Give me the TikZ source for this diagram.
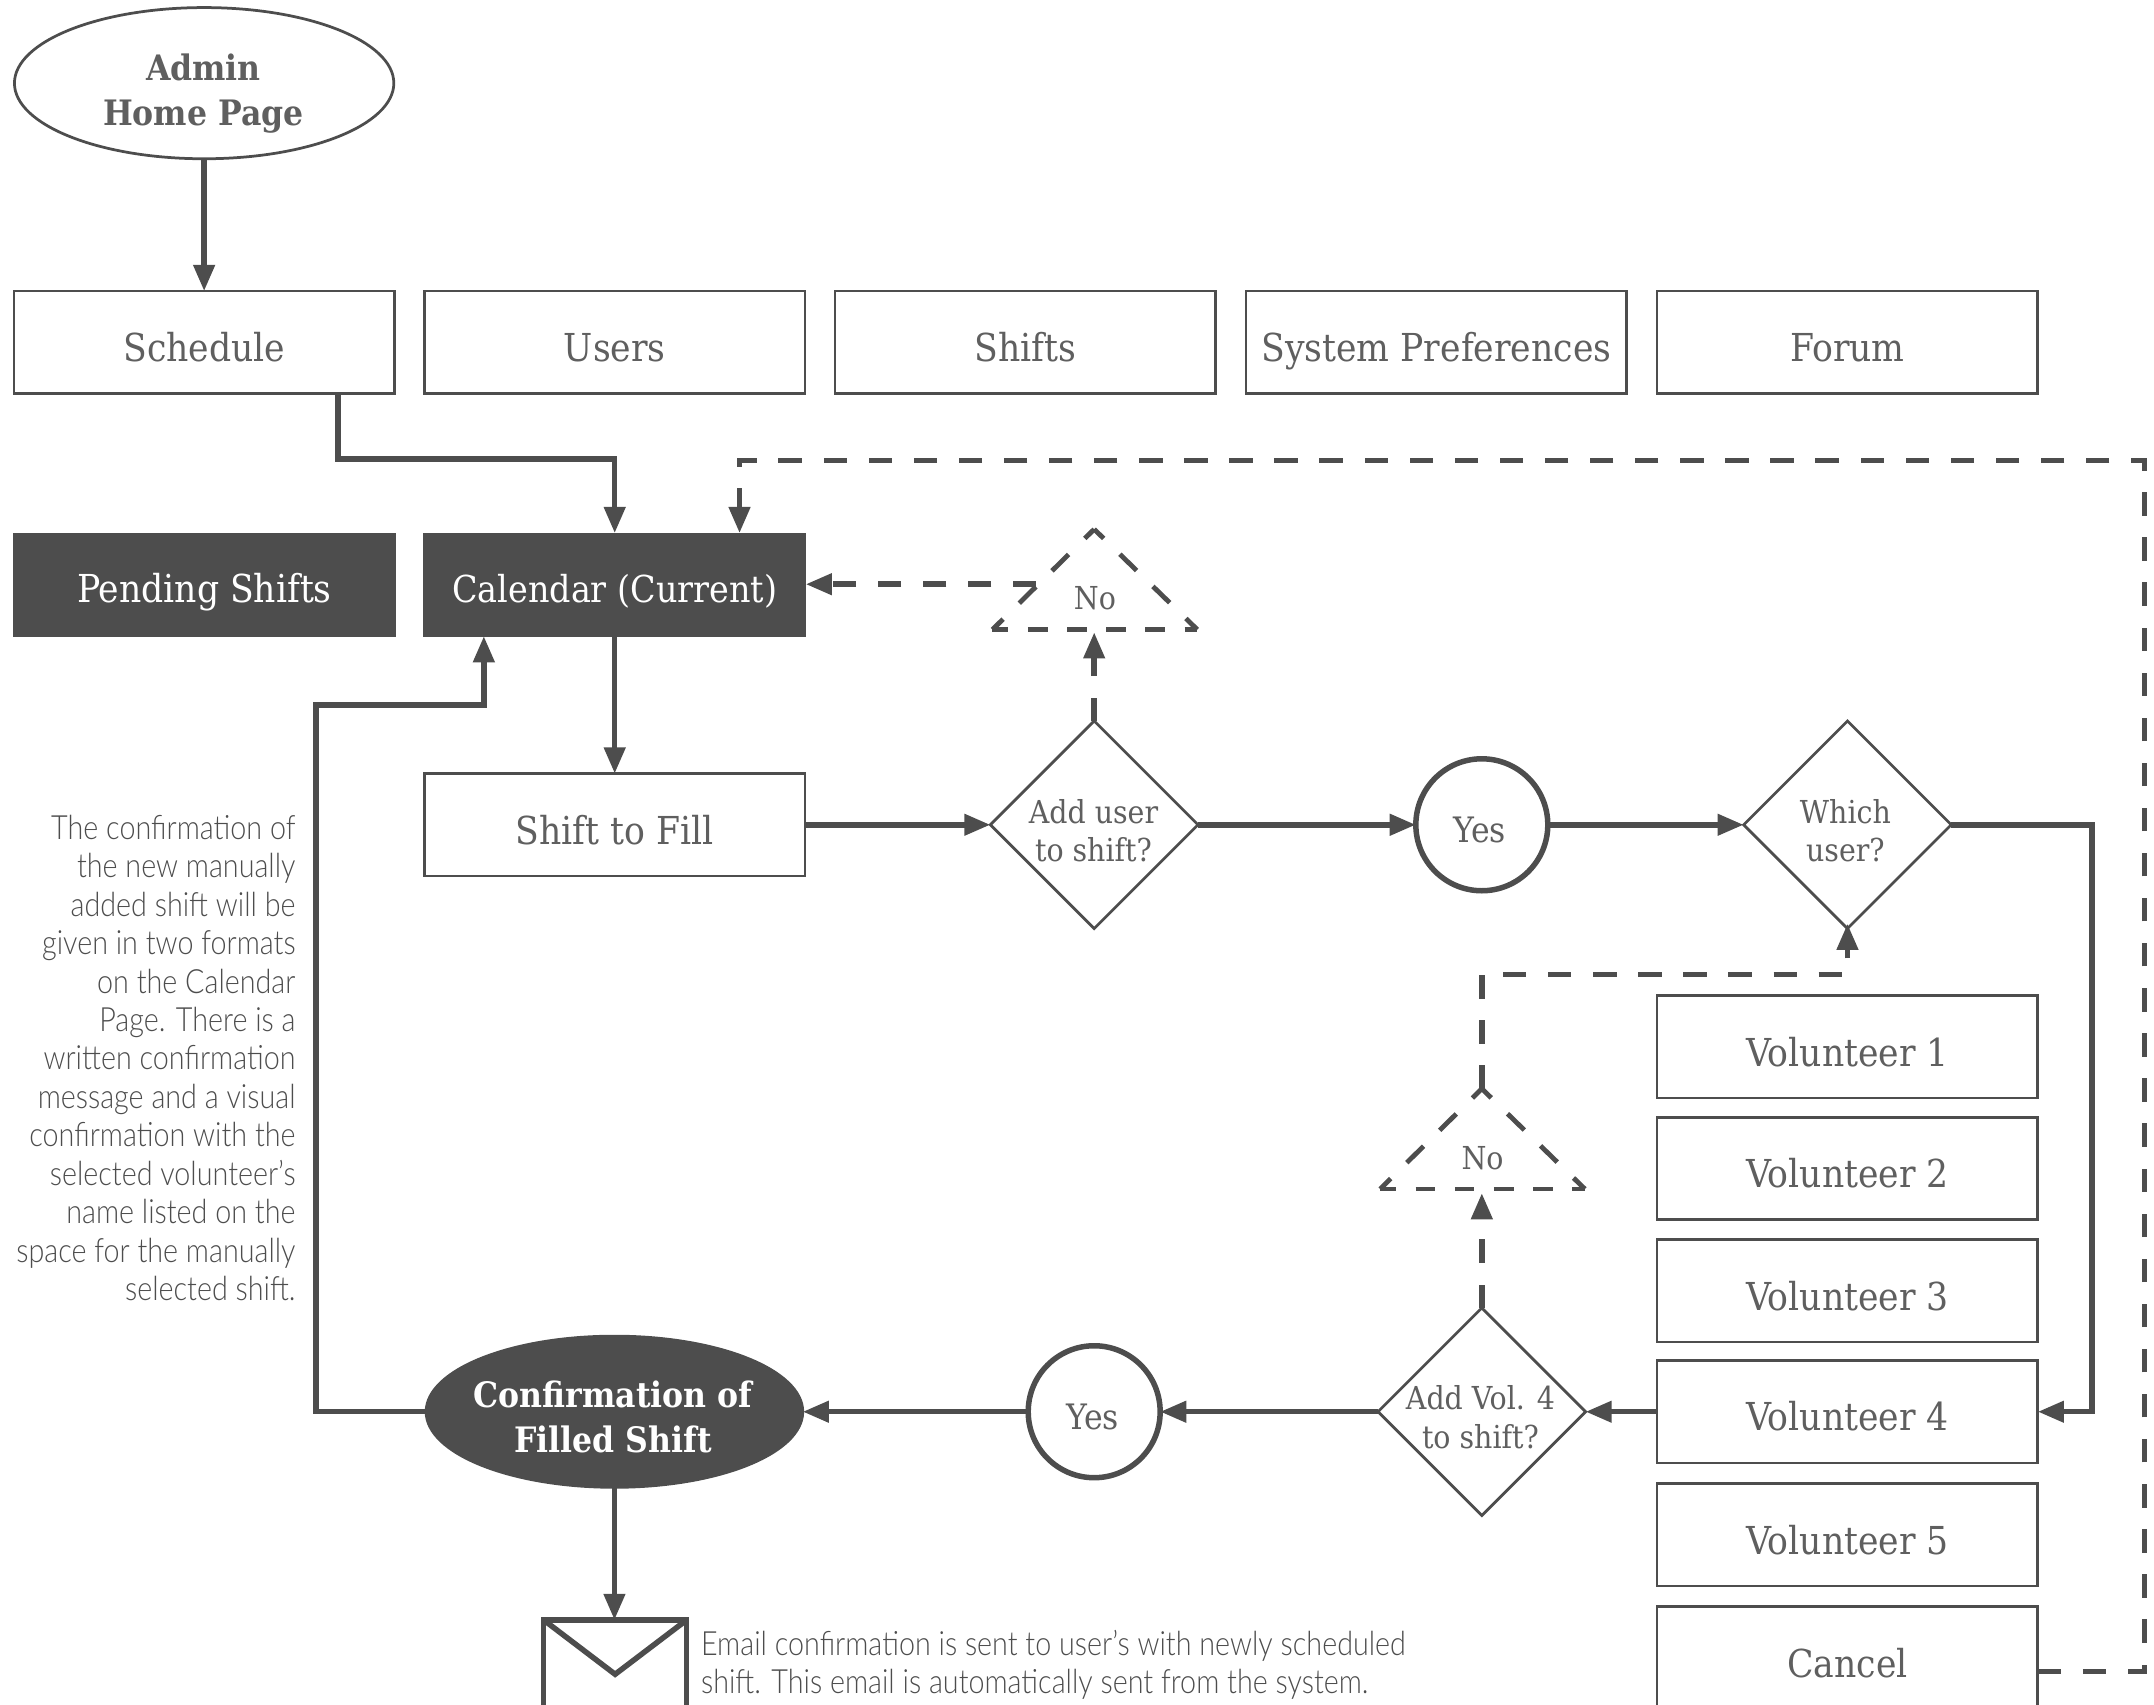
\documentclass[tikz,border=0pt]{standalone}
\usepackage{fontspec}
\usetikzlibrary{arrows.meta,shapes.geometric}
\setmainfont{DejaVu Serif Condensed}
\newfontfamily\notefont[FakeStretch=0.86]{Lato Light}
\definecolor{ink}{HTML}{4D4D4D}
\definecolor{softink}{HTML}{5F5F5F}
\tikzset{
  every node/.style={inner sep=0pt,outer sep=0pt,text=softink},
  menubox/.style={draw=ink,line width=2pt,rectangle,minimum width=277pt,minimum height=74.5pt,
    font=\fontsize{28}{30}\selectfont,text height=32pt,text depth=4pt},
  darkbox/.style={menubox,fill=ink,text=white,text height=31pt,text depth=5pt,line width=0pt,minimum width=278pt,minimum height=75pt},
  decide/.style={draw=ink,line width=2pt,diamond,minimum width=151pt,minimum height=151pt,aspect=1},
  decidetext/.style={align=center,font=\fontsize{23}{27.7}\selectfont},
  yesnode/.style={draw=ink,line width=4pt,circle,minimum size=96pt},
  yestext/.style={font=\fontsize{25.5}{28}\selectfont},
  flow/.style={draw=ink,line width=4pt,-{Triangle[length=19pt,width=15pt]}},
  dashflow/.style={flow,dash pattern=on 17pt off 15.8pt},
  triarm/.style={draw=ink,line width=3.5pt,dash pattern=on 17pt off 16.5pt,dash phase=7.4pt},
  tribase/.style={draw=ink,line width=3.5pt,dash pattern=on 14.3pt off 14.2pt,dash phase=2.7pt},
  notetext/.style={text=ink,font=\notefont\fontsize{24.3}{27.95}\selectfont},
  oval/.style={draw=ink,line width=2pt,ellipse,minimum width=276pt,minimum height=110pt},
  ovaltext/.style={align=center,font=\fontsize{25.5}{33}\selectfont\bfseries}
}
\begin{document}
\begin{tikzpicture}[x=1pt,y=-1pt]
\useasboundingbox (0,0) rectangle (1567,1240);
% top
\node[oval] (home) at (148.5,60.5) {};
\node[ovaltext] (hometext) at (148,68) {Admin\\Home Page};
\node[menubox] (schedule) at (148.7,249) {Schedule};
\node[menubox] (users) at (447.2,249) {Users};
\node[menubox] (shifts) at (746,249) {Shifts};
\node[menubox] (prefs) at (1045,249) {System Preferences};
\node[menubox] (forum) at (1344,249) {Forum};
\node[darkbox] (pending) at (148.7,425.3) {Pending Shifts};
\node[darkbox,font=\fontsize{27}{30}\selectfont] (calendar) at (447.2,425.3) {Calendar (Current)};
\node[menubox] (fill) at (447.2,600) {Shift to Fill};
\node[decide] (adduser) at (796,600) {};
\node[decidetext] (addusertext) at (795.5,604) {Add user\\to shift?};
\node[yesnode] (yes1) at (1078,600) {};
\node[yestext] (yes1text) at (1076.5,604) {Yes};
\node[decide] (which) at (1344,600) {};
\node[decidetext] (whichtext) at (1342.5,604) {Which\\user?};
\node[menubox] (v1) at (1344,761.5) {Volunteer 1};
\node[menubox] (v2) at (1344,850) {Volunteer 2};
\node[menubox] (v3) at (1344,939) {Volunteer 3};
\node[menubox] (v4) at (1344,1027) {Volunteer 4};
\node[menubox] (v5) at (1344,1116.5) {Volunteer 5};
\node[menubox] (cancel) at (1344,1206) {Cancel};
\node[decide] (addvol) at (1078,1027) {};
\node[decidetext] (addvoltext) at (1077,1031) {Add Vol. 4\\to shift?};
\node[yesnode] (yes2) at (796,1027) {};
\node[yestext] (yes2text) at (795,1031) {Yes};
\node[oval,fill=ink,minimum width=274pt] (confirm) at (447,1027) {};
\node[ovaltext,text=white] (confirmtext) at (446,1031) {Confirmation of\\Filled Shift};
% no triangles
\coordinate (t1a) at (796,385);
\coordinate (t1b) at (871,458);
\coordinate (t1c) at (722,458);
\draw[triarm] (t1a) -- (t1b);
\draw[triarm] (t1a) -- (t1c);
\draw[tribase] (t1c) -- (t1b);
\node[font=\fontsize{23}{28}\selectfont] (no1) at (796.5,435.5) {No};
\coordinate (t2a) at (1078,792);
\coordinate (t2b) at (1153,865);
\coordinate (t2c) at (1004,865);
\draw[triarm] (t2a) -- (t2b);
\draw[triarm] (t2a) -- (t2c);
\draw[tribase] (t2c) -- (t2b);
\node[font=\fontsize{23}{28}\selectfont] (no2) at (1078.5,842.5) {No};
% envelope
\node[draw=ink,line width=4pt,rectangle,minimum width=104pt,minimum height=80pt,anchor=north] (mail) at (447.5,1178.5) {};
\draw[ink,line width=4pt] (mail.north west) -- (447.5,1218) -- (mail.north east);
% text
\node[notetext,align=right,anchor=north east] (note) at (215,593) {The confirmation of\\the new manually\\added shift will be\\given in two formats\\on the Calendar\\Page. There is a\\written confirmation\\message and a visual\\confirmation with the\\selected volunteer’s\\name listed on the\\space for the manually\\selected shift.};
\node[notetext,align=left,anchor=north west] (mailnote) at (510,1186) {Email confirmation is sent to user’s with newly scheduled\\shift. This email is automatically sent from the system.};
% connectors
\draw[flow] (home.south) -- (home.south |- schedule.north);
\coordinate (s1) at (246,334);
\draw[flow] (schedule.south -| s1) -- (s1) -| (calendar.north);
\draw[flow] (calendar.south) -- (fill.north);
\draw[flow] (fill.east |- adduser.west) -- (adduser.west);
\draw[flow] (adduser.east) -- (yes1.west);
\draw[flow] (yes1.east) -- (which.west);
\coordinate (r1) at (1522,600);
\draw[flow] (which.east) -- (r1) |- (v4.east);
\draw[flow] (v4.west) -- (addvol.east);
\draw[flow] (addvol.west) -- (yes2.east);
\draw[flow] (yes2.west) -- (confirm.east);
\draw[flow] (confirm.south) -- (mail.north -| confirm.south);
\coordinate (b1) at (230,513);
\coordinate (b2) at (352,513);
\draw[flow] (confirm.west) -| (b1) -- (b2) -- (b2 |- calendar.south);
% dashed
\coordinate (c0) at (1560,1216);
\coordinate (c1) at (1560,335);
\coordinate (c2) at (538,335);
\draw[dashflow] (cancel.east |- c0) -- (c0) -- (c1) -- (c2) -- (c2 |- calendar.north);
\draw[dashflow] (adduser.north) -- (796,460);
\coordinate (n1) at (754,425);
\draw[dashflow] (n1) -- (calendar.east |- n1);
\draw[dashflow] (addvol.north) -- (1078,868);
\coordinate (w1) at (1078,709);
\coordinate (w2) at (1344,709);
\coordinate (w3) at (1344,672);
\draw[dashflow] (t2a) -- (w1) -- (w2) -- (w3);
\end{tikzpicture}
\end{document}
